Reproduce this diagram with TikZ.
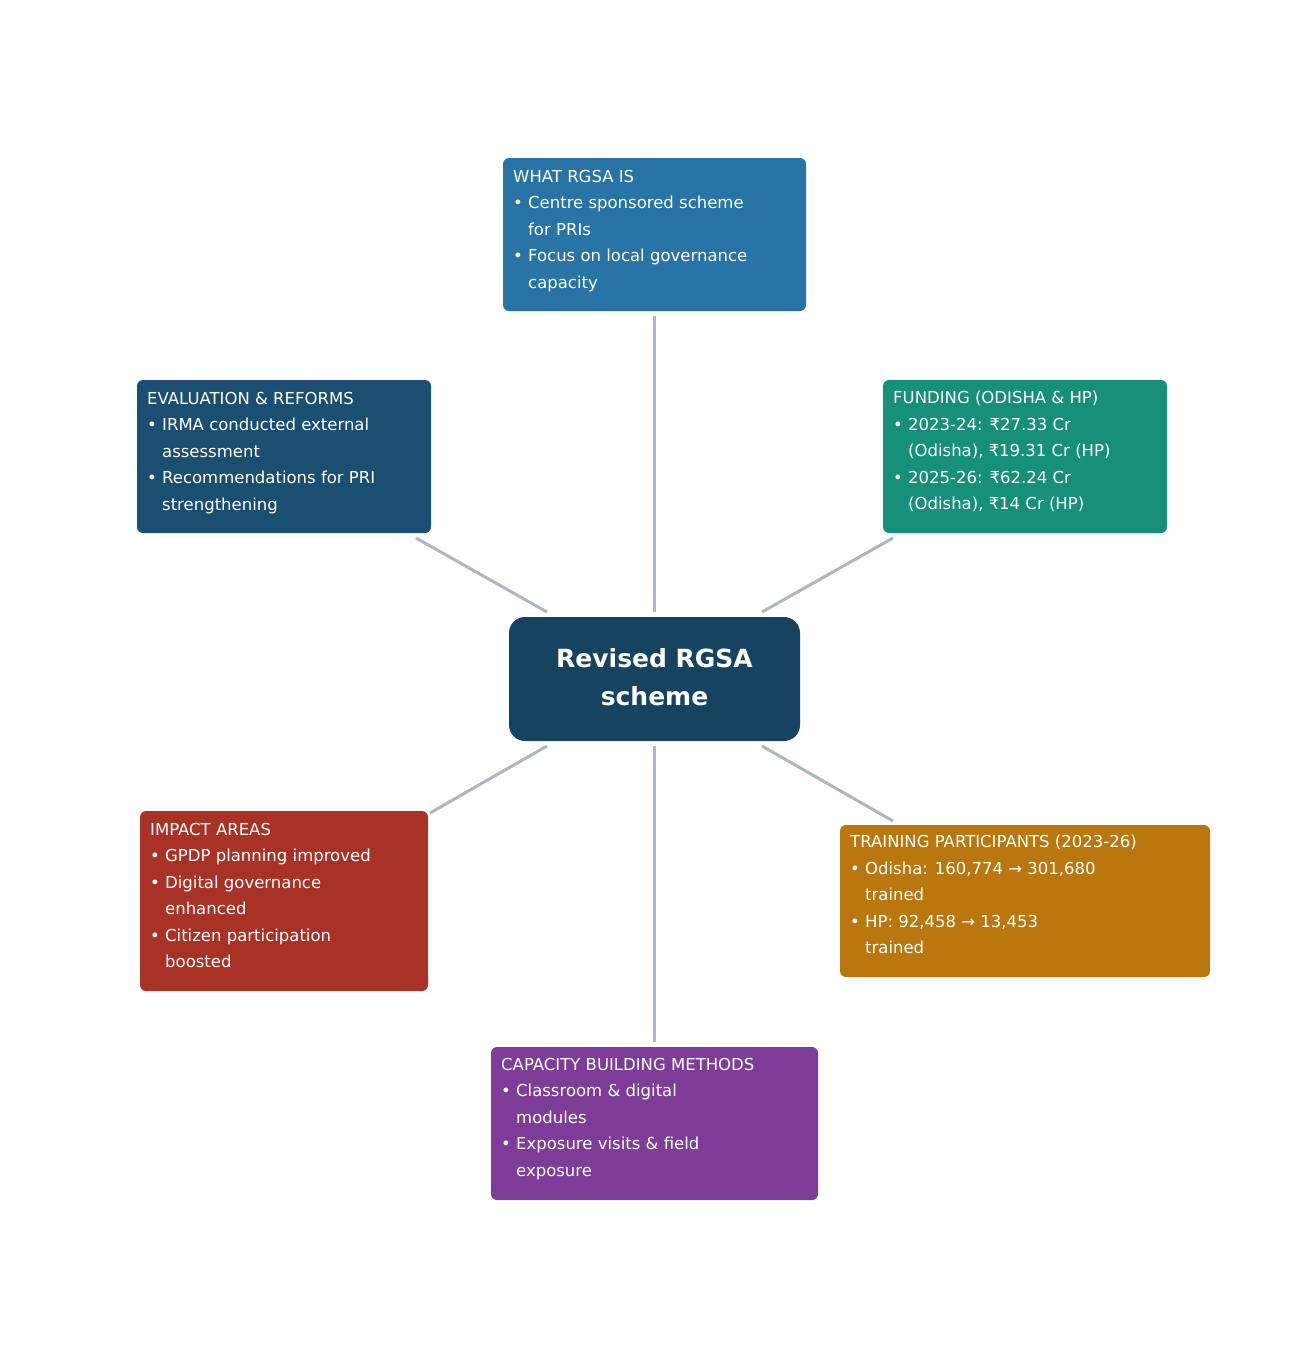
\documentclass[tikz,border=0pt]{standalone}
\usepackage{fontspec}
\setmainfont{DejaVu Sans}
\begin{document}
\begin{tikzpicture}[x=1pt,y=-1pt,
  box/.style={draw=none,rounded corners=6pt,inner sep=0pt},
  txt/.style={anchor=north west,inner sep=0pt,text=white,align=left,font=\fontsize{16.5}{26.5}\selectfont},
  link/.style={draw=gray!45!blue!15!gray!60,color={rgb,255:red,174;green,182;blue,191},line width=3pt}]
\useasboundingbox (0,0) rectangle (1308,1358);
\definecolor{cW}{HTML}{2874A6}\definecolor{cE}{HTML}{1B4F72}\definecolor{cF}{HTML}{17907A}
\definecolor{cC}{HTML}{154360}\definecolor{cI}{HTML}{A93226}\definecolor{cT}{HTML}{B9770E}
\definecolor{cB}{HTML}{7D3C98}
\newcommand{\ind}{\phantom{• }}
% boxes
\fill[cW,rounded corners=6pt] (503,158) rectangle (806,311);
\fill[cE,rounded corners=6pt] (137,380) rectangle (431,533);
\fill[cF,rounded corners=6pt] (883,380) rectangle (1167,533);
\fill[cC,rounded corners=16pt] (509,617) rectangle (800,741);
\fill[cI,rounded corners=6pt] (140,811) rectangle (428,991);
\fill[cT,rounded corners=6pt] (840,825) rectangle (1210,977);
\fill[cB,rounded corners=6pt] (491,1047) rectangle (818,1200);
% texts
\node[txt] (what) at (513,170) {WHAT RGSA IS\\• Centre sponsored scheme\\\ind for PRIs\\• Focus on local governance\\\ind capacity};
\node[txt] (eval) at (147,392) {EVALUATION \& REFORMS\\• IRMA conducted external\\\ind assessment\\• Recommendations for PRI\\\ind strengthening};
\node[txt] (fund) at (893,391) {FUNDING (ODISHA \& HP)\\• 2023-24: ₹27.33 Cr\\\ind (Odisha), ₹19.31 Cr (HP)\\• 2025-26: ₹62.24 Cr\\\ind (Odisha), ₹14 Cr (HP)};
\node[txt] (imp) at (150,823) {IMPACT AREAS\\• GPDP planning improved\\• Digital governance\\\ind enhanced\\• Citizen participation\\\ind boosted};
\node[txt] (train) at (850,835) {TRAINING PARTICIPANTS (2023-26)\\• Odisha: 160,774 → 301,680\\\ind trained\\• HP: 92,458 → 13,453\\\ind trained};
\node[txt] (cap) at (501,1058) {CAPACITY BUILDING METHODS\\• Classroom \& digital\\\ind modules\\• Exposure visits \& field\\\ind exposure};
\node[text=white,align=center,font=\fontsize{25}{38}\selectfont\bfseries] (center) at (654.5,677) {Revised RGSA\\scheme};
% connector ends
\coordinate (c1) at (654,612); \coordinate (w1) at (654,316);
\coordinate (c2) at (547,612); \coordinate (e1) at (416,538);
\coordinate (c3) at (762,612); \coordinate (f1) at (893,538);
\coordinate (c4) at (547,746); \coordinate (i1) at (430,813);
\coordinate (c5) at (762,746); \coordinate (t1) at (893,821);
\coordinate (c6) at (654,746); \coordinate (b1) at (654,1042);
\foreach \a/\b in {c1/w1,c2/e1,c3/f1,c4/i1,c5/t1,c6/b1}
  \draw[link] (\a) -- (\b);
\end{tikzpicture}
\end{document}
